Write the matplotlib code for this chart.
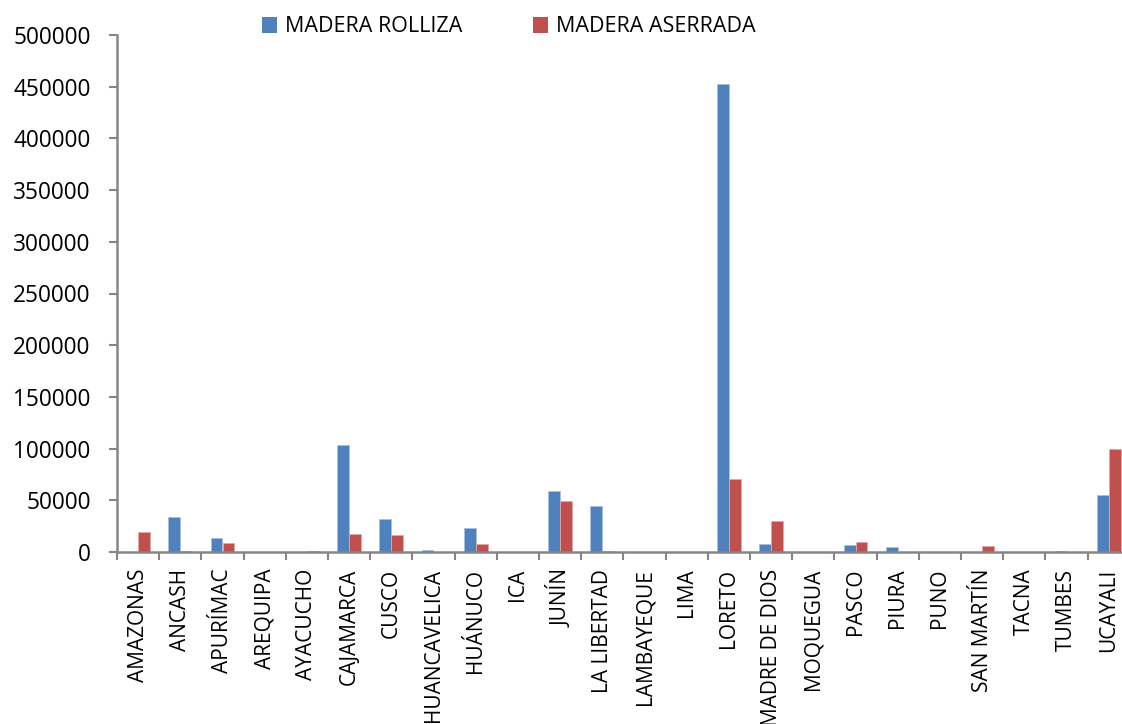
import matplotlib
matplotlib.use("Agg")
import matplotlib.pyplot as plt
import numpy as np
from matplotlib.patches import Patch

categories = ["AMAZONAS", "ANCASH", "APURÍMAC", "AREQUIPA", "AYACUCHO", "CAJAMARCA",
              "CUSCO", "HUANCAVELICA", "HUÁNUCO", "ICA", "JUNÍN", "LA LIBERTAD",
              "LAMBAYEQUE", "LIMA", "LORETO", "MADRE DE DIOS", "MOQUEGUA", "PASCO",
              "PIURA", "PUNO", "SAN MARTÍN", "TACNA", "TUMBES", "UCAYALI"]
rolliza = [0, 34000, 14000, 0, 0, 103500, 32000, 2000, 23500, 0, 59000, 44500,
           0, 0, 452600, 8000, 0, 6500, 5100, 0, 0, 0, 500, 54800]
aserrada = [19000, 1200, 8500, 0, 600, 17500, 16000, 0, 7500, 0, 49500, 1200,
            0, 0, 70500, 30300, 0, 9400, 0, 0, 5500, 0, 0, 99900]
series_names = ["MADERA ROLLIZA", "MADERA ASERRADA"]
yticks = list(range(0, 500001, 50000))

blue = "#4F81BD"
red = "#C0504D"
axis_gray = "#868686"

plt.rcParams['font.family'] = ['Open Sans', 'DejaVu Sans']

fig = plt.figure(figsize=(11.22, 7.24), dpi=100)
ax = fig.add_axes([117/1122, 1 - 552/724, 1012.8/1122, 517/724])

x = np.arange(len(categories))
w = 0.284
ax.bar(x - w/2, rolliza, width=w, color=blue, edgecolor="#A7C0DE", linewidth=0.6)
ax.bar(x + w/2, aserrada, width=w, color=red, edgecolor="#E0A9A7", linewidth=0.6)

ax.set_xlim(-0.5, len(categories) - 0.5)
ax.set_ylim(0, 500000)

ax.set_yticks(yticks)
ax.set_yticklabels([str(v) for v in yticks], fontsize=16.3)
ax.tick_params(axis='y', direction='out', length=6, width=1.5, color=axis_gray, pad=13)

ax.set_xticks(np.arange(len(categories) + 1) - 0.5)
ax.set_xticklabels([])
ax.tick_params(axis='x', which='major', direction='out', length=6, width=1.5, color=axis_gray)
ax.set_xticks(x, minor=True)
ax.set_xticklabels(categories, minor=True, rotation=90, fontsize=15, va='top', ha='center')
ax.tick_params(axis='x', which='minor', length=0, pad=12)

for s in ['top', 'right']:
    ax.spines[s].set_visible(False)
for s in ['left', 'bottom']:
    ax.spines[s].set_color(axis_gray)
    ax.spines[s].set_linewidth(1.8)

handles = [Patch(facecolor=blue, edgecolor='none'), Patch(facecolor=red, edgecolor='none')]
fig.legend(handles, series_names, loc='center', bbox_to_anchor=(509/1122, 1 - 27/724),
           ncol=2, frameon=False, fontsize=15.5, handlelength=0.7, handleheight=0.7,
           handletextpad=0.35, columnspacing=3.3, borderaxespad=0)

fig.savefig("out.png", dpi=100)
